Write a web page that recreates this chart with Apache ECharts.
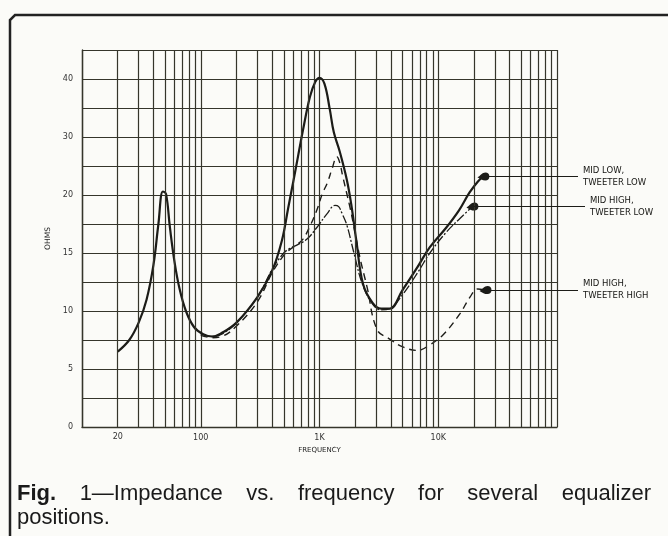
<!DOCTYPE html>
<html>
<head>
<meta charset="utf-8">
<script src="https://cdn.jsdelivr.net/npm/echarts@6/dist/echarts.min.js"></script>
<style>
  html, body { margin: 0; padding: 0; background: #fbfbf8; }
  #chart-container { width: 668px; height: 536px; }
</style>
</head>
<body>
<div id="chart-container"></div>
<script>
// frequency (Hz) and impedance (ohms)
var midLowTwLowFreq = [20, 25, 30, 35, 40, 44, 48, 51, 55, 60, 66, 75, 88, 105, 125, 150, 200, 300, 400, 483, 543, 600, 660, 726, 830, 920, 1000, 1100, 1220, 1320, 1480, 1700, 1850, 2040, 2330, 2800, 3300, 3900, 5000, 6700, 8500, 11700, 15000, 18300, 21500, 24000];
var midLowTwLowOhms = [6.5, 7.5, 9.0, 11.0, 14.0, 17.5, 20.6, 20.2, 17.2, 14.3, 12.0, 10.0, 8.6, 8.0, 7.8, 8.1, 9.0, 11.2, 13.5, 16.1, 18.8, 22.2, 26.7, 31.2, 36.9, 39.5, 40.2, 39.2, 34.8, 30.8, 27.5, 22.6, 19.2, 16.1, 12.3, 10.7, 10.2, 10.2, 11.8, 13.8, 15.5, 17.2, 18.7, 20.4, 22.3, 23.2];

var midHighTwLowFreq = [100, 125, 150, 200, 300, 400, 500, 564, 650, 785, 950, 1160, 1350, 1450, 1550, 1700, 1950, 2300, 2800, 3300, 3900, 5000, 6700, 8500, 11700, 15300, 19400];
var midHighTwLowOhms = [8.0, 7.8, 8.0, 9.0, 11.2, 13.6, 15.0, 15.4, 15.7, 16.2, 17.2, 18.4, 19.1, 19.0, 18.4, 17.4, 15.0, 12.3, 10.6, 10.1, 10.2, 11.4, 13.3, 15.0, 16.8, 18.0, 19.0];

var midHighTwHighFreq = [100, 125, 150, 200, 300, 400, 500, 564, 640, 726, 830, 950, 1060, 1160, 1280, 1400, 1480, 1570, 1800, 1920, 2180, 2510, 3050, 3870, 5050, 6670, 8530, 11100, 15300, 18500, 21500, 25000];
var midHighTwHighOhms = [7.9, 7.7, 7.8, 8.7, 10.8, 13.3, 14.8, 15.3, 15.7, 16.2, 17.3, 18.7, 20.3, 22.0, 24.6, 26.6, 25.6, 23.2, 19.0, 17.6, 14.7, 12.1, 8.4, 7.6, 6.9, 6.6, 7.1, 8.0, 9.8, 11.2, 11.9, 11.8];

var seriesNames = ["MID LOW,\nTWEETER LOW", "MID HIGH,\nTWEETER LOW", "MID HIGH,\nTWEETER HIGH"];
var ohmTickLabels = [0, 5, 10, 15, 20, 30, 40];
var freqTickLabels = { 100: "100", 1000: "1K", 10000: "10K" };
var decades = [10, 100, 1000, 10000];

var gridColor = "#35352b";
var inkColor = "#1c1c18";

// the chart paper is 5 ohms per block up to 20, then 10 ohms per block
function toAxis(ohm) { return ohm <= 20 ? ohm : 20 + (ohm - 20) / 2; }
function fromAxis(v) { return v <= 20 ? v : 20 + (v - 20) * 2; }

var blob = "path://M0,6 C4,4 6,0 10,0 C13,0 15,2 15,5 C15,8 13,10 10,10 C6,10 4,8 0,6 Z";

function makeData(freqs, ohms) {
  var out = [];
  for (var i = 0; i < freqs.length; i++) {
    var p = [freqs[i], toAxis(ohms[i])];
    if (i == freqs.length - 1) {
      out.push({ value: p, symbol: blob, symbolSize: [12, 8], itemStyle: { color: inkColor } });
    } else {
      out.push(p);
    }
  }
  return out;
}

function leader(freqs, ohms, endX, text) {
  var last = [freqs[freqs.length - 1], toAxis(ohms[ohms.length - 1])];
  return {
    silent: true,
    symbol: ["none", "none"],
    lineStyle: { color: inkColor, width: 1.2, type: "solid" },
    label: {
      show: true, position: "end", distance: 5, formatter: text,
      color: "#151512", fontSize: 8.5, fontFamily: "DejaVu Sans", lineHeight: 12
    },
    data: [[{ coord: last }, { coord: last, x: endX }]]
  };
}

// minor log grid lines 2..9 in each decade
var minorLines = [];
decades.forEach(function (d) {
  for (var m = 2; m <= 9; m++) {
    var item = { xAxis: d * m };
    if (d * m == 20) {
      item.label = { show: true, position: "start", formatter: "20", distance: 6, color: "#333", fontSize: 8, fontFamily: "DejaVu Sans" };
    }
    minorLines.push(item);
  }
});

// caption, justified across the column like the printed page
var captionWords = ["Fig.", "1\u2014Impedance", "vs.", "frequency", "for", "several", "equalizer"];
var captionLine2 = "positions.";
var capFont = '22px "Liberation Sans"';
var ctx = document.createElement("canvas").getContext("2d");
var capLeft = 17, capRight = 651;
var widths = captionWords.map(function (w, i) {
  ctx.font = (i == 0 ? "bold " : "") + capFont;
  return ctx.measureText(w).width;
});
var total = widths.reduce(function (a, b) { return a + b; }, 0);
var gap = (capRight - capLeft - total) / (captionWords.length - 1);
var captionGraphics = [];
var cx = capLeft;
captionWords.forEach(function (w, i) {
  captionGraphics.push({
    type: "text", left: cx, top: 483,
    style: { text: w, font: (i == 0 ? "bold " : "") + capFont, fill: "#1a1a1a" }
  });
  cx += widths[i] + gap;
});
captionGraphics.push({
  type: "text", left: capLeft, top: 507,
  style: { text: captionLine2, font: capFont, fill: "#1a1a1a" }
});

var dom = document.getElementById("chart-container");
var myChart = echarts.init(dom, null, { renderer: "canvas" });

var option = {
  backgroundColor: "#fbfbf8",
  animation: false,
  grid: { left: 82, right: 111, top: 50, bottom: 109 },
  xAxis: {
    type: "log",
    logBase: 10,
    min: 10,
    max: 100000,
    name: "FREQUENCY",
    nameLocation: "middle",
    nameGap: 20,
    nameTextStyle: { fontSize: 7, color: "#222", fontFamily: "DejaVu Sans" },
    axisLine: { show: true, lineStyle: { color: gridColor, width: 1.4 } },
    axisTick: { show: false },
    splitLine: { show: true, lineStyle: { color: gridColor, width: 1.2 } },
    axisLabel: {
      margin: 7, fontSize: 8, color: "#333", fontFamily: "DejaVu Sans",
      formatter: function (v) { return freqTickLabels[Math.round(v)] || ""; }
    }
  },
  yAxis: {
    type: "value",
    min: 0,
    max: 32.5,
    interval: 2.5,
    name: "OHMS",
    nameLocation: "middle",
    nameGap: 30,
    nameRotate: 90,
    nameTextStyle: { fontSize: 7.5, color: "#222", fontFamily: "DejaVu Sans" },
    axisLine: { show: true, lineStyle: { color: gridColor, width: 1.4 } },
    axisTick: { show: false },
    splitLine: { show: true, lineStyle: { color: gridColor, width: 1.2 } },
    axisLabel: {
      margin: 9, fontSize: 8, color: "#333", fontFamily: "DejaVu Sans",
      formatter: function (v) {
        var ohm = fromAxis(v);
        for (var i = 0; i < ohmTickLabels.length; i++) {
          if (Math.abs(ohmTickLabels[i] - ohm) < 0.01) return String(ohmTickLabels[i]);
        }
        return "";
      }
    }
  },
  graphic: [
    {
      type: "polyline",
      shape: { points: [[10, 536], [10, 20], [15, 15], [668, 15]] },
      style: { stroke: "#222", lineWidth: 2.5, fill: null }
    }
  ].concat(captionGraphics),
  series: [
    {
      type: "line",
      data: [],
      silent: true,
      markLine: {
        silent: true,
        symbol: ["none", "none"],
        lineStyle: { color: gridColor, width: 1.2, type: "solid" },
        label: { show: false },
        data: minorLines
      }
    },
    {
      name: seriesNames[0],
      type: "line",
      data: makeData(midLowTwLowFreq, midLowTwLowOhms),
      symbol: "none",
      smooth: 0.4,
      lineStyle: { color: inkColor, width: 2.2 },
      markLine: leader(midLowTwLowFreq, midLowTwLowOhms, 578, seriesNames[0])
    },
    {
      name: seriesNames[1],
      type: "line",
      data: makeData(midHighTwLowFreq, midHighTwLowOhms),
      symbol: "none",
      smooth: 0.4,
      lineStyle: { color: inkColor, width: 1.3, type: [9, 2, 2, 2] },
      markLine: leader(midHighTwLowFreq, midHighTwLowOhms, 585, seriesNames[1])
    },
    {
      name: seriesNames[2],
      type: "line",
      data: makeData(midHighTwHighFreq, midHighTwHighOhms),
      symbol: "none",
      smooth: 0.4,
      lineStyle: { color: inkColor, width: 1.4, type: [7, 5] },
      markLine: leader(midHighTwHighFreq, midHighTwHighOhms, 578, seriesNames[2])
    }
  ]
};

myChart.setOption(option);
</script>
</body>
</html>
